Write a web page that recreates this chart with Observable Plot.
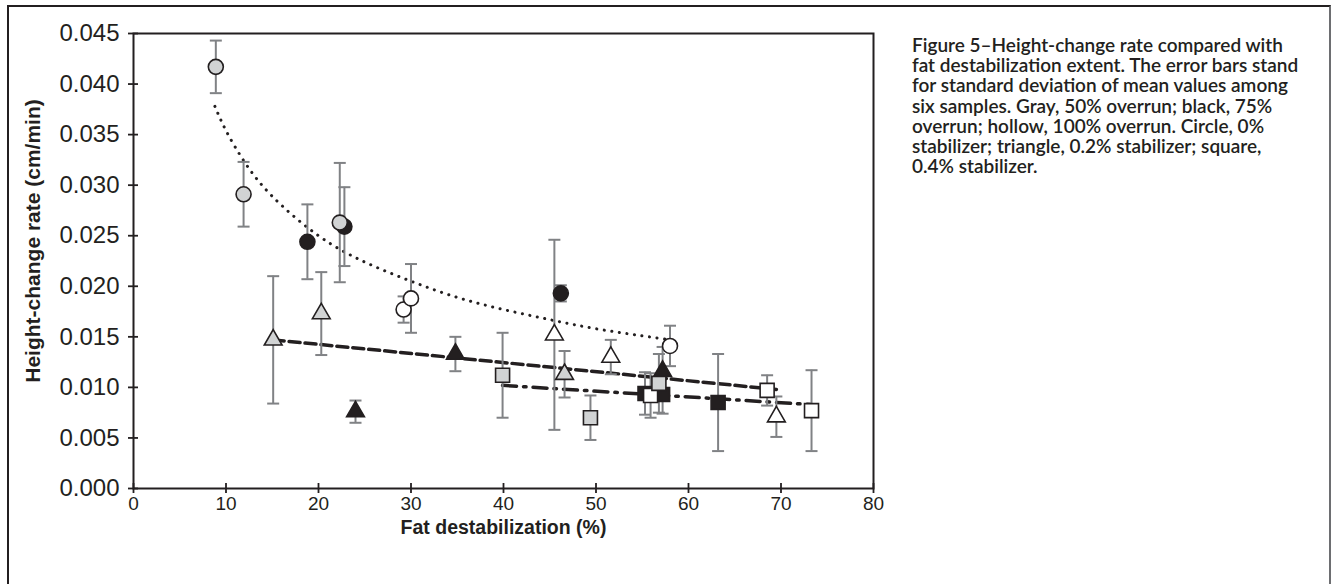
<!DOCTYPE html>
<html><head><meta charset="utf-8">
<script src="https://cdn.jsdelivr.net/npm/d3@7"></script>
<script src="https://cdn.jsdelivr.net/npm/@observablehq/plot@0.6"></script>
<style>
html,body{margin:0;padding:0;background:#fff;}
#wrap{position:relative;width:1338px;height:584px;overflow:hidden;}
#border{position:absolute;left:7px;top:5px;width:1320px;height:640px;border-top:2px solid #231f20;border-left:2px solid #231f20;border-right:2px solid #6d6e71;}
#chart{position:absolute;left:0;top:0;}
#caption{position:absolute;left:912px;top:35px;font-family:Lato,"Noto Sans",sans-serif;font-weight:600;font-size:19px;line-height:20.2px;color:#231f20;white-space:pre;}
</style></head><body>
<div id="wrap"><div id="border"></div><div id="chart"></div><div id="caption"></div></div>
<script>
// ---- data ----
// fat destabilization (%), height-change rate (cm/min), SD, overrun (%), stabilizer (%)
const fat        = [8.9, 11.9, 18.8, 22.8, 22.3, 29.2, 30.0, 46.2, 58.0,
                    15.1, 20.3, 24.0, 34.8, 45.5, 46.6, 51.6, 57.2, 69.5,
                    39.9, 49.4, 55.3, 57.2, 55.9, 56.8, 63.2, 68.5, 73.3];
const rate       = [0.0417, 0.0291, 0.0244, 0.0259, 0.0263, 0.0177, 0.0188, 0.0193, 0.0141,
                    0.0147, 0.0173, 0.0076, 0.0133, 0.0152, 0.0113, 0.0130, 0.0116, 0.0071,
                    0.0112, 0.0070, 0.0094, 0.0093, 0.0092, 0.0104, 0.0085, 0.0097, 0.0077];
const sd         = [0.0026, 0.0032, 0.0037, 0.0039, 0.0059, 0.0013, 0.0034, 0.0008, 0.0020,
                    0.0063, 0.0041, 0.0011, 0.0017, 0.0094, 0.0023, 0.0017, 0.0024, 0.0020,
                    0.0042, 0.0022, 0.0021, 0.0019, 0.0022, 0.0029, 0.0048, 0.0015, 0.0040];
const overrun    = [50, 50, 75, 75, 50, 100, 100, 75, 100,
                    50, 50, 75, 75, 100, 50, 100, 75, 100,
                    50, 50, 75, 75, 100, 50, 75, 100, 100];
const stabilizer = [0, 0, 0, 0, 0, 0, 0, 0, 0,
                    0.2, 0.2, 0.2, 0.2, 0.2, 0.2, 0.2, 0.2, 0.2,
                    0.4, 0.4, 0.4, 0.4, 0.4, 0.4, 0.4, 0.4, 0.4];

// trend lines
const trend0X  = [8.8, 10, 12, 15, 20, 25, 30, 35, 40, 45, 50, 55, 58];
const trend0Y  = [0.0378, 0.0354, 0.0323, 0.0289, 0.0250, 0.0224, 0.0205, 0.0189, 0.0177, 0.0167, 0.0158, 0.0151, 0.0147];
const trend02X = [15.1, 69.5];
const trend02Y = [0.0147, 0.0098];
const trend04X = [39.9, 73.3];
const trend04Y = [0.0102, 0.0083];

const xTicks = [0, 10, 20, 30, 40, 50, 60, 70, 80];
const yTicks = [0, 0.005, 0.010, 0.015, 0.020, 0.025, 0.030, 0.035, 0.040, 0.045];

const xTitle = "Fat destabilization (%)";
const yTitle = "Height-change rate (cm/min)";
const captionLines = [
  "Figure 5\u2013Height-change rate compared with",
  "fat destabilization extent. The error bars stand",
  "for standard deviation of mean values among",
  "six samples. Gray, 50% overrun; black, 75%",
  "overrun; hollow, 100% overrun. Circle, 0%",
  "stabilizer; triangle, 0.2% stabilizer; square,",
  "0.4% stabilizer."
];

// ---- build ----
const table = fat.map((f, i) => ({fat: f, rate: rate[i], sd: sd[i], overrun: overrun[i], stab: stabilizer[i]}));
const t0 = trend0X.map((x, i) => ({x, y: trend0Y[i]}));
const t02 = trend02X.map((x, i) => ({x, y: trend02Y[i]}));
const t04 = trend04X.map((x, i) => ({x, y: trend04Y[i]}));

const capSymbol = {draw(ctx, size) { const h = Math.sqrt(size / Math.PI); ctx.moveTo(-h, 0); ctx.lineTo(h, 0); }};
const ink = "#231f20";
const errColor = "#808285";

const chart = Plot.plot({
  width: 900,
  height: 560,
  marginLeft: 133,
  marginRight: 27,
  marginTop: 33,
  marginBottom: 72,
  style: {fontFamily: "'Liberation Sans', Arial, sans-serif", color: ink, background: "transparent"},
  x: {domain: [0, 80], axis: null},
  y: {domain: [0, 0.045], axis: null},
  color: {type: "ordinal", domain: [50, 75, 100], range: ["#d1d3d4", "#231f20", "#ffffff"]},
  marks: [
    // trend lines
    Plot.line(t0, {x: "x", y: "y", curve: "natural", stroke: ink, strokeWidth: 3, strokeDasharray: "0.1,7.5", strokeLinecap: "round"}),
    Plot.line(t02, {x: "x", y: "y", stroke: ink, strokeWidth: 3.5, strokeDasharray: "11,5"}),
    Plot.line(t04, {x: "x", y: "y", stroke: ink, strokeWidth: 3.5, strokeDasharray: "14,7,2.5,7"}),
    // error bars
    Plot.ruleX(table, {x: "fat", y1: d => d.rate - d.sd, y2: d => d.rate + d.sd, stroke: errColor, strokeWidth: 2}),
    Plot.dot(table, {x: "fat", y: d => d.rate + d.sd, symbol: capSymbol, r: 6, fill: "none", stroke: errColor, strokeWidth: 2}),
    Plot.dot(table, {x: "fat", y: d => d.rate - d.sd, symbol: capSymbol, r: 6, fill: "none", stroke: errColor, strokeWidth: 2}),
    // markers
    Plot.dot(table, {filter: d => d.stab === 0, x: "fat", y: "rate", symbol: "circle", r: 7.5, fill: "overrun", stroke: ink, strokeWidth: 1.6}),
    Plot.dot(table, {filter: d => d.stab === 0.2, x: "fat", y: "rate", symbol: "triangle", r: 6.6, fill: "overrun", stroke: ink, strokeWidth: 1.6}),
    Plot.dot(table, {filter: d => d.stab === 0.4, x: "fat", y: "rate", symbol: "square", r: 7.9, fill: "overrun", stroke: ink, strokeWidth: 1.6}),
    // frame
    Plot.frame({stroke: ink, strokeWidth: 2}),
    // axes (ticks cross the axis line)
    Plot.axisY({ticks: yTicks, tickSize: 5, tickPadding: 9, tickFormat: d => d.toFixed(3), fontSize: 24, stroke: ink, strokeWidth: 1.8, fill: ink, label: null}),
    Plot.axisY({ticks: yTicks, tickSize: 5, dx: 5, tickFormat: () => "", stroke: ink, strokeWidth: 1.8, label: null}),
    Plot.axisX({ticks: xTicks, tickSize: 5, tickPadding: 3, tickFormat: d => String(d), fontSize: 19, stroke: ink, strokeWidth: 1.8, fill: ink, label: null}),
    Plot.axisX({ticks: xTicks, tickSize: 5, dy: -5, tickFormat: () => "", stroke: ink, strokeWidth: 1.8, label: null}),
    // titles
    Plot.text([xTitle], {frameAnchor: "bottom", dy: 45, text: d => d, fontSize: 19.5, fontWeight: "bold", fill: ink}),
    Plot.text([yTitle], {frameAnchor: "left", textAnchor: "middle", dx: -100, dy: -20, rotate: -90, text: d => d, fontSize: 21, fontWeight: "bold", fill: ink})
  ]
});
document.getElementById("chart").appendChild(chart);
document.getElementById("caption").textContent = captionLines.join("\n");
</script>
</body></html>
